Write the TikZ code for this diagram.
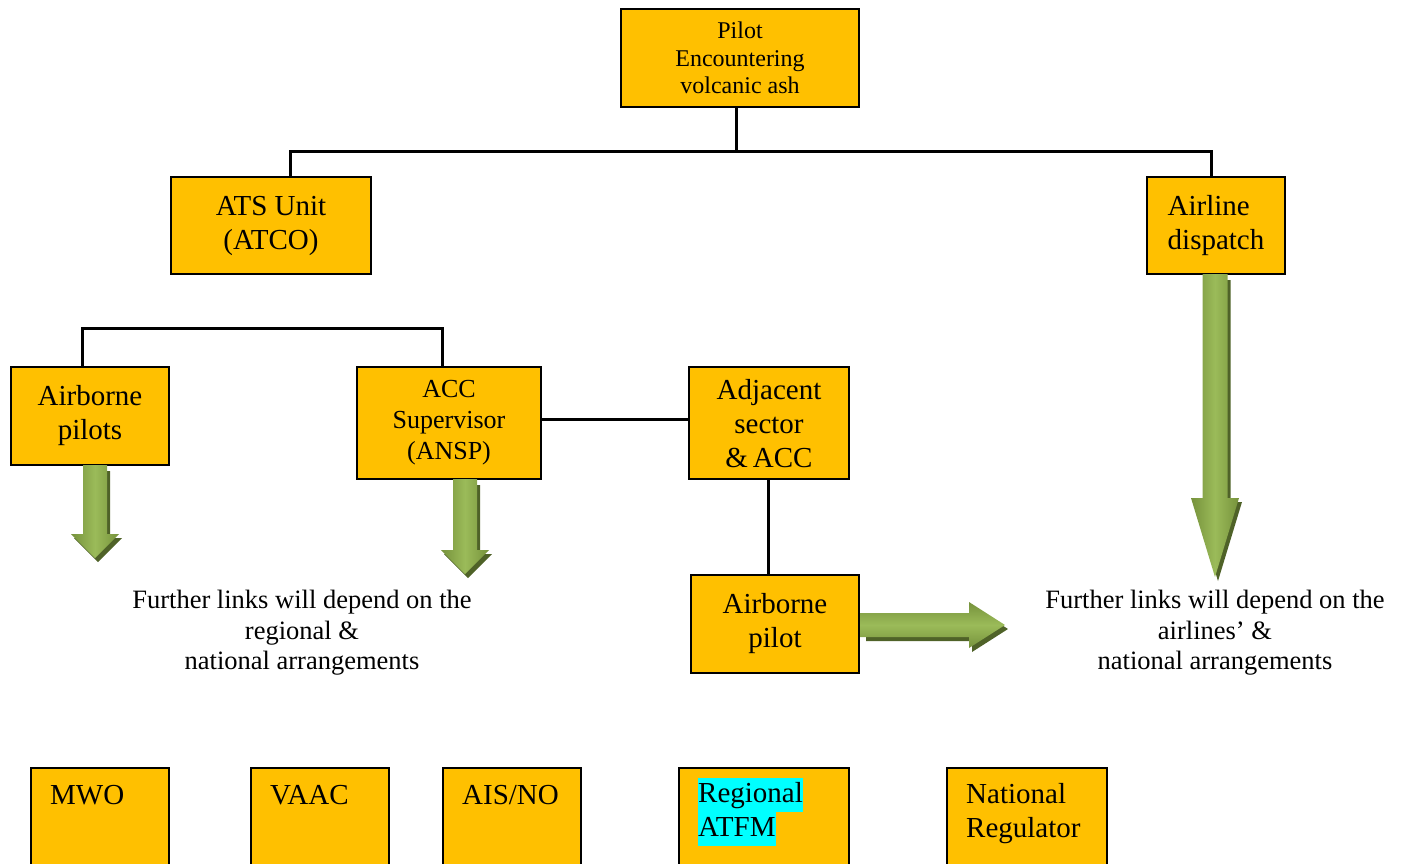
\documentclass[tikz,border=0pt]{standalone}
\usepackage{fontspec}
\setmainfont{Liberation Serif}
\definecolor{boxfill}{HTML}{FFC000}
\definecolor{glight}{HTML}{9BBB59}
\definecolor{gdark}{HTML}{76923C}
\definecolor{gshadow}{HTML}{4F6228}
\definecolor{hl}{HTML}{00FFFF}
\newcommand\greenvarrow[6]{% cx, top, neck, tip, shaft half, head half
  \fill[gshadow] (#1-#5+3,#2+6) -- (#1+#5+3,#2+6) -- (#1+#5+3,#3+4) -- (#1+#6+3,#3+4) -- (#1+3,#4+4) -- (#1-#6+3,#3+4) -- (#1-#5+3,#3+4) -- cycle;
  \path[vshade] (#1-#5,#2) -- (#1+#5,#2) -- (#1+#5,#3) -- (#1+#6,#3) -- (#1,#4) -- (#1-#6,#3) -- (#1-#5,#3) -- cycle;
}
\newcommand\greenharrow[6]{% cy, left, neck, tip, shaft half, head half
  \fill[gshadow] (#2+6,#1-#5+4) -- (#3+3,#1-#5+4) -- (#3+3,#1-#6+4) -- (#4+3,#1+4) -- (#3+3,#1+#6+4) -- (#3+3,#1+#5+4) -- (#2+6,#1+#5+4) -- cycle;
  \path[hshade] (#2,#1-#5) -- (#3,#1-#5) -- (#3,#1-#6) -- (#4,#1) -- (#3,#1+#6) -- (#3,#1+#5) -- (#2,#1+#5) -- cycle;
}
\begin{document}
\begin{tikzpicture}[x=1pt,y=-1pt,
  box/.style={draw=black, line width=2pt, fill=boxfill, inner sep=0pt, anchor=north west, align=center},
  big/.style={font=\fontsize{29}{34}\selectfont},
  mid/.style={font=\fontsize{26}{31}\selectfont},
  small/.style={font=\fontsize{24}{27.5}\selectfont},
  note/.style={font=\fontsize{26.5}{30.5}\selectfont, align=center, inner sep=0pt},
  btext/.style={big, anchor=north west, inner sep=0pt, align=left},
  link/.style={line width=3pt},
  vshade/.style={left color=gdark, right color=gdark, middle color=glight},
  hshade/.style={top color=gdark, bottom color=gdark, middle color=glight}]
\useasboundingbox (0,0) rectangle (1401,863);
\clip (0,0) rectangle (1401,863);

% top level
\node[box, small, minimum width=238, minimum height=98] (pilot) at (620,8) {Pilot\\Encountering\\volcanic ash};
\node[box, big, minimum width=200, minimum height=97] (ats) at (170,176) {ATS Unit\\(ATCO)};
\node[box, big, minimum width=138, minimum height=97, align=left] (air) at (1146,176) {Airline\\dispatch};

\coordinate (bus) at ([xshift=-4,yshift=-43]pilot.south);
\coordinate (atsTop) at ([xshift=19]ats.north);
\coordinate (airTop) at ([xshift=-5]air.north);
\draw[link] ([xshift=-4]pilot.south) -- (bus);
\draw[link] (atsTop) |- (bus) -| (airTop);

% middle level
\node[box, big, minimum width=158, minimum height=98] (abps) at (10,366) {Airborne\\pilots};
\node[box, mid, minimum width=184, minimum height=112] (acc) at (356,366) {ACC\\Supervisor\\(ANSP)};
\node[box, big, minimum width=160, minimum height=112, text depth=0pt] (adj) at (688,366) {Adjacent\\sector\\\&\,ACC};
\node[box, big, minimum width=168, minimum height=98] (abp) at (690,574) {Airborne\\pilot};

\coordinate (abpsTop) at ([xshift=-8]abps.north);
\coordinate (accTop) at ([xshift=-7]acc.north);
\coordinate (lbus) at ([yshift=38]abpsTop);
\draw[link] (abpsTop) -- (lbus) -| (accTop);
\draw[link] ([yshift=4]acc.east) -- ([yshift=4]adj.west);
\draw[link] ([xshift=-1]adj.south) -- ([xshift=-1]adj.south |- abp.north);

% green arrows
\greenvarrow{95}{465}{534}{558}{12}{24}
\greenvarrow{465}{479}{550}{574}{12}{24}
\greenvarrow{1215}{274}{498}{577}{12.5}{24}
\greenharrow{625}{860}{969}{1005}{12}{23}

% notes
\node[note] (noteL) at (302,633) {Further links will depend on the\\regional \&\\national arrangements};
\node[note] (noteR) at (1215,633) {Further links will depend on the\\airlines’ \&\\national arrangements};

% bottom row
\node[box, minimum width=138, minimum height=120] (mwo) at (30,767) {};
\node[box, minimum width=138, minimum height=120] (vaac) at (250,767) {};
\node[box, minimum width=138, minimum height=120] (ais) at (442,767) {};
\node[box, minimum width=170, minimum height=120] (atfm) at (678,767) {};
\node[box, minimum width=160, minimum height=120] (reg) at (946,767) {};

\node[btext] (mwoT) at ([xshift=20,yshift=-18]mwo.north west) {MWO};
\node[btext] (vaacT) at ([xshift=20,yshift=-18]vaac.north west) {VAAC};
\node[btext] (aisT) at ([xshift=20,yshift=-18]ais.north west) {AIS/NO};
\node[btext] (atfmT) at ([xshift=20,yshift=-11]atfm.north west) {\setlength\fboxsep{0pt}\colorbox{hl}{\strut Regional}\\\setlength\fboxsep{0pt}\colorbox{hl}{\strut ATFM}};
\node[btext] (regT) at ([xshift=20,yshift=-16]reg.north west) {National\\Regulator};
\end{tikzpicture}
\end{document}
